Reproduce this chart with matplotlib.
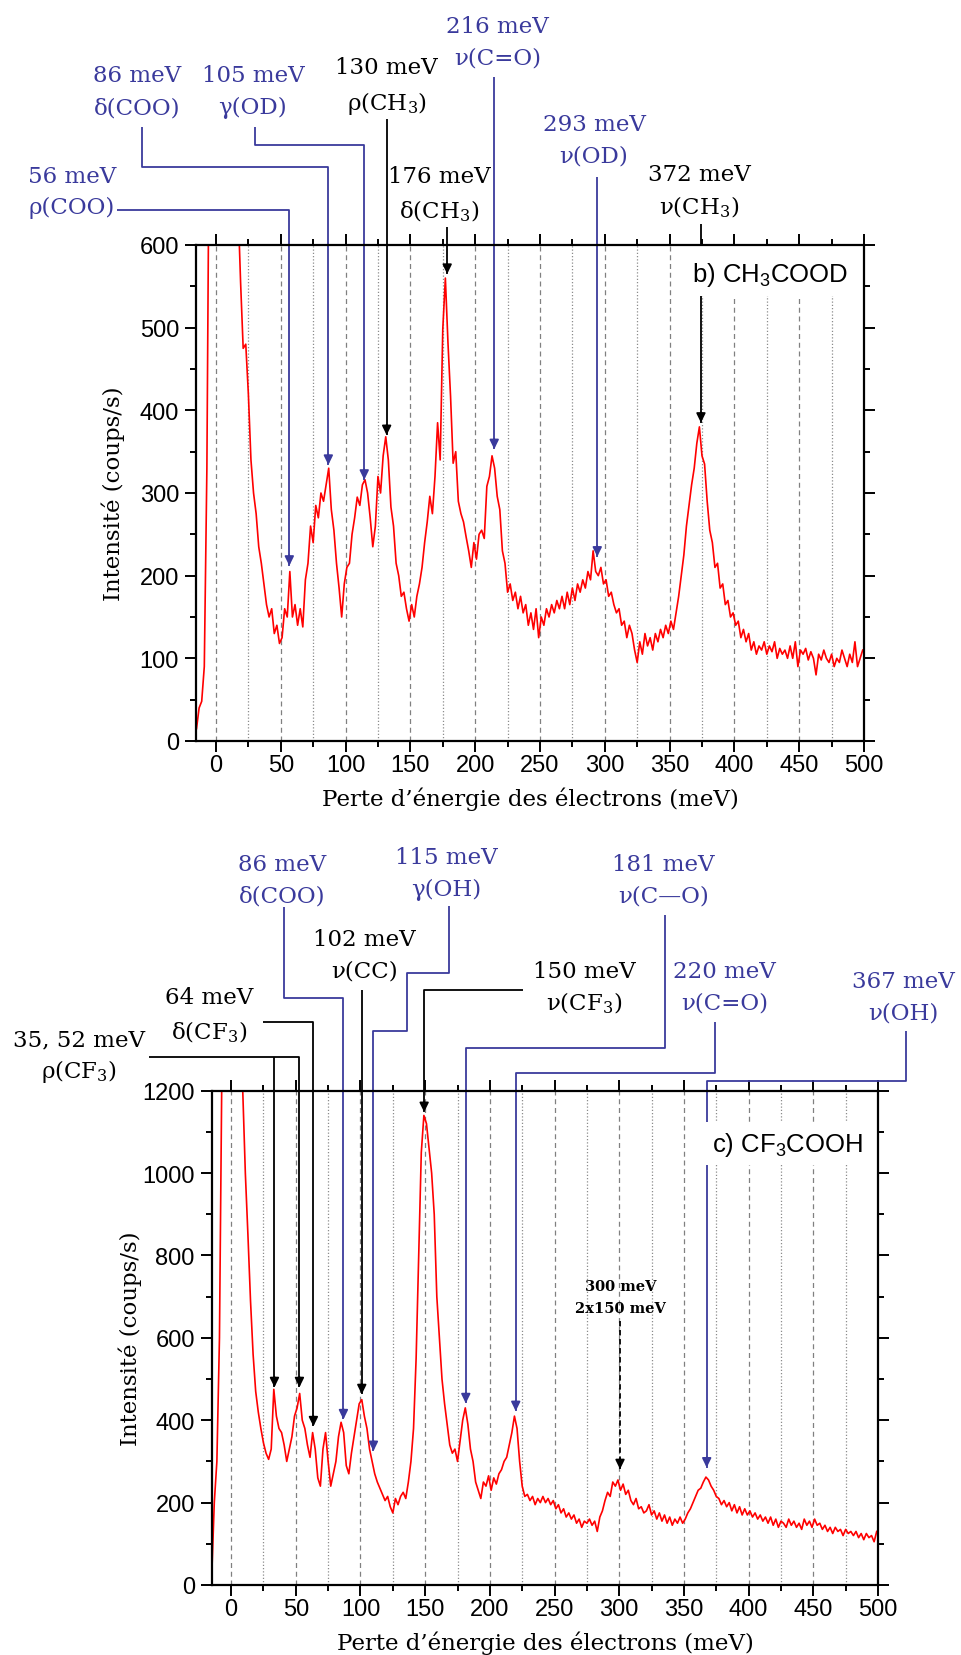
import numpy as np
import matplotlib
matplotlib.use("Agg")
import matplotlib.pyplot as plt
from matplotlib.ticker import MultipleLocator
from matplotlib.patches import Rectangle

# ---------------- data ----------------
E_START = -15      # meV, first sample
E_STEP = 2         # meV between samples

# b) CH3COOD  intensity (coups/s)
int_ch3cood = [
    15, 40, 48, 90, 330, 800, 900, 900, 900, 900,
    900, 900, 900, 900, 900, 800, 650, 555, 475, 480,
    420, 340, 300, 275, 235, 215, 190, 165, 150, 160,
    130, 140, 118, 125, 160, 150, 205, 150, 165, 140,
    160, 138, 195, 215, 260, 240, 285, 270, 300, 290,
    310, 330, 280, 255, 215, 185, 150, 190, 210, 215,
    250, 270, 295, 285, 310, 316, 300, 270, 235, 260,
    320, 300, 345, 368, 340, 283, 260, 215, 200, 175,
    180, 160, 145, 165, 150, 175, 190, 210, 240, 265,
    296, 275, 320, 385, 340, 498, 560, 482, 417, 336,
    350, 290, 275, 265, 247, 230, 210, 240, 220, 250,
    255, 245, 308, 320, 345, 330, 296, 280, 230, 215,
    180, 190, 170, 180, 160, 175, 155, 165, 140, 155,
    135, 160, 125, 150, 140, 160, 150, 165, 155, 170,
    160, 175, 160, 180, 165, 185, 170, 190, 180, 195,
    185, 205, 195, 230, 205, 200, 210, 190, 195, 175,
    180, 165, 155, 160, 140, 145, 125, 140, 130, 110,
    95, 120, 105, 130, 115, 125, 110, 130, 120, 135,
    125, 140, 130, 145, 135, 155, 175, 200, 225, 260,
    285, 310, 330, 360, 380, 345, 335, 290, 255, 240,
    210, 215, 185, 190, 165, 170, 150, 155, 140, 145,
    125, 135, 120, 130, 110, 120, 105, 115, 110, 120,
    105, 115, 108, 120, 100, 112, 105, 110, 100, 115,
    100, 120, 90, 110, 105, 112, 98, 108, 100, 80,
    105, 98, 110, 100, 95, 105, 90, 100, 95, 110,
    100, 90, 105, 95, 120, 90, 100, 110,
]

# c) CF3COOH  intensity (coups/s)
int_cf3cooh = [
    20, 200, 300, 600, 1300, 1400, 1400, 1400, 1400, 1400,
    1400, 1400, 1200, 1000, 850, 690, 560, 470, 420, 380,
    345, 320, 305, 330, 475, 410, 380, 370, 340, 300,
    330, 360, 410, 430, 465, 400, 380, 340, 310, 370,
    330, 260, 240, 330, 370, 300, 240, 270, 300, 360,
    395, 370, 290, 270, 320, 360, 400, 440, 450, 410,
    380, 330, 300, 270, 250, 235, 220, 205, 215, 190,
    175, 210, 195, 215, 225, 210, 250, 300, 380, 550,
    800, 1050, 1140, 1120, 1060, 1000, 900, 700, 600, 500,
    440, 390, 340, 320, 330, 300, 350, 400, 430, 390,
    330, 300, 250, 230, 210, 250, 240, 265, 230, 260,
    245, 270, 280, 300, 310, 340, 370, 410, 380, 300,
    240, 215, 220, 205, 215, 195, 210, 200, 215, 200,
    210, 195, 205, 185, 195, 175, 185, 165, 175, 160,
    170, 150, 160, 140, 155, 150, 160, 145, 155, 130,
    165, 180, 205, 225, 215, 250, 240, 255, 230, 245,
    220, 230, 205, 195, 210, 185, 190, 175, 180, 195,
    170, 180, 160, 175, 155, 170, 150, 165, 145, 160,
    150, 165, 150, 160, 175, 185, 200, 215, 230, 235,
    250, 262, 255, 240, 230, 215, 210, 195, 205, 190,
    200, 180, 195, 175, 190, 170, 185, 170, 180, 165,
    175, 160, 170, 155, 165, 150, 165, 145, 160, 140,
    155, 150, 140, 160, 145, 155, 140, 150, 135, 160,
    145, 155, 140, 160, 145, 150, 135, 145, 130, 140,
    125, 140, 130, 135, 120, 135, 125, 130, 120, 130,
    115, 125, 110, 125, 115, 120, 105, 130,
]

# annotations, panel b
top_energy_labels = ["56 meV", "86 meV", "105 meV", "130 meV", "176 meV",
                     "216 meV", "293 meV", "372 meV"]
top_mode_labels = ["ρ(COO)", "δ(COO)", "γ(OD)", r"ρ(CH$_\mathregular{3}$)",
                   r"δ(CH$_\mathregular{3}$)", "ν(C=O)", "ν(OD)",
                   r"ν(CH$_\mathregular{3}$)"]
top_is_blue = [True, True, True, False, False, True, True, False]
top_arrow_x = [56.6, 86.7, 114.4, 131.7, 178.4, 214.7, 294.2, 374.2]
top_arrow_tip = [212, 334, 316, 370, 565, 353, 223, 385]

# annotations, panel c
bot_energy_labels = ["35, 52 meV", "", "64 meV", "86 meV", "102 meV", "115 meV",
                     "150 meV", "181 meV", "220 meV", "367 meV"]
bot_mode_labels = [r"ρ(CF$_\mathregular{3}$)", "", r"δ(CF$_\mathregular{3}$)",
                   "δ(COO)", "ν(CC)", "γ(OH)", r"ν(CF$_\mathregular{3}$)",
                   "ν(C—O)", "ν(C=O)", "ν(OH)"]
bot_is_blue = [False, False, False, True, False, True, False, True, True, True]
bot_arrow_x = [52.8, 33.5, 63.6, 86.8, 101.0, 110.0, 149.2, 181.4, 220.0, 367.6]
bot_arrow_tip = [480, 480, 385, 402, 463, 325, 1148, 441, 422, 285]

overtone_labels = ["300 meV", "2x150 meV"]
overtone_x = 300.6
overtone_tip = 281

# ---------------- layout (positions only) ----------------
top_text_pos = [(-111.1, 683.4, 646.0), (-61.0, 805.6, 766.9), (28.5, 805.6, 766.9),
                (131.7, 815.2, 772.9), (172.0, 683.4, 642.3), (217.0, 865.5, 827.3),
                (291.7, 746.3, 708.0), (372.9, 685.9, 647.5)]
top_paths = [[(-76.4, 642.3), (56.6, 642.3)],
             [(-56.9, 742.7), (-56.9, 694.7), (86.7, 694.7)],
             [(29.9, 742.7), (29.9, 720.9), (114.4, 720.9)],
             [(131.7, 752.4)],
             [(178.4, 622.1)],
             [(214.7, 803.5)],
             [(294.2, 682.6)],
             [(374.2, 625.4)]]

bot_text_pos = [(-117.5, 1325.6, 1248.6), None, (-16.8, 1427.0, 1345.8),
                (39.2, 1750.9, 1673.9), (103.0, 1568.6, 1491.6),
                (166.5, 1766.7, 1690.0), (273.0, 1491.6, 1414.8),
                (334.1, 1750.9, 1673.9), (381.2, 1491.6, 1414.8),
                (519.6, 1467.3, 1390.5)]
bot_paths = [[(-63.1, 1282.6), (52.8, 1282.6)],
             [(33.5, 1282.6)],
             [(25.0, 1366.2), (63.6, 1366.2)],
             [(41.2, 1645.7), (41.2, 1424.5), (86.8, 1424.5)],
             [(101.0, 1444.7)],
             [(168.7, 1648.1), (168.7, 1486.0), (136.2, 1486.0), (136.2, 1344.3), (110.0, 1344.3)],
             [(225.9, 1444.7), (149.2, 1444.7)],
             [(335.4, 1627.0), (335.4, 1303.8), (181.4, 1303.8)],
             [(374.0, 1366.2), (374.0, 1243.0), (220.0, 1243.0)],
             [(521.6, 1345.8), (521.6, 1222.8), (367.6, 1222.8)]]

BLUE = "#3a3a9c"
SERIF = "DejaVu Serif"
SANS = "Liberation Sans"
plt.rcParams["font.family"] = [SANS, "DejaVu Sans"]

W, H = 961, 1656
fig = plt.figure(figsize=(W / 100, H / 100), dpi=100)


def px_axes(l, t, r, b):
    return [l / W, 1 - b / H, (r - l) / W, (b - t) / H]


ax1 = fig.add_axes(px_axes(196, 246, 864, 742))
ax2 = fig.add_axes(px_axes(211.7, 1091.7, 878, 1586))


def style(ax, xmin, ymax, ymaj, ymin):
    ax.set_xlim(xmin, 500)
    ax.set_ylim(0, ymax)
    ax.xaxis.set_major_locator(MultipleLocator(50))
    ax.xaxis.set_minor_locator(MultipleLocator(25))
    ax.yaxis.set_major_locator(MultipleLocator(ymaj))
    ax.yaxis.set_minor_locator(MultipleLocator(ymin))
    ax.tick_params(which="both", direction="out", top=True, right=True,
                   width=1.4, color="black")
    ax.tick_params(which="major", length=7.7)
    ax.tick_params(which="minor", length=4.4)
    ax.tick_params(axis="x", which="major", labelsize=17, pad=2)
    ax.tick_params(axis="y", which="major", labelsize=17, pad=4.5)
    for s in ax.spines.values():
        s.set_linewidth(1.6)
        s.set_zorder(4)
    ax.grid(True, which="major", axis="x", color="0.5", lw=0.9, ls=(0, (4, 3)))
    ax.grid(True, which="minor", axis="x", color="0.55", lw=0.9, ls=(0, (1, 1.6)))
    ax.set_axisbelow(True)


def arrow_path(ax, pts, x, tip, color, ls="-"):
    xs = [p[0] for p in pts] + [x]
    ys = [p[1] for p in pts] + [tip]
    if len(pts) and pts[-1][0] != x:
        xs.insert(-1, x)
        ys.insert(-1, pts[-1][1])
    ax.plot(xs, ys, color=color, lw=1.3, ls=ls, clip_on=False, zorder=3,
            solid_capstyle="butt")
    ax.annotate("", xy=(x, tip), xytext=(0, 7.5), textcoords="offset points",
                arrowprops=dict(arrowstyle="-|>,head_length=0.55,head_width=0.27",
                                color=color, lw=1.3, shrinkA=0, shrinkB=0,
                                mutation_scale=10),
                annotation_clip=False, zorder=3)


def two_lines(ax, pos, t1, t2, color, size=16.5, weight="normal"):
    x, y1, y2 = pos
    ax.text(x, y1, t1, color=color, family=SERIF, fontsize=size, ha="center",
            va="center", weight=weight)
    ax.text(x, y2, t2, color=color, family=SERIF, fontsize=size, ha="center",
            va="center", weight=weight)


# ---------------- panel b ----------------
E1 = E_START + E_STEP * np.arange(len(int_ch3cood))
ax1.plot(E1, int_ch3cood, color="#ff0000", lw=1.2, zorder=2)
style(ax1, -15.4, 600, 100, 50)
for i in range(len(top_energy_labels)):
    c = BLUE if top_is_blue[i] else "black"
    arrow_path(ax1, top_paths[i], top_arrow_x[i], top_arrow_tip[i], c)
    two_lines(ax1, top_text_pos[i], top_energy_labels[i], top_mode_labels[i], c)
ax1.add_patch(Rectangle((363.4, 538), 136.6, 62, facecolor="white",
                        edgecolor="none", zorder=3.5))
ax1.text(487.7, 565, r"b) CH$_\mathregular{3}$COOD", family=SANS, fontsize=18.5,
         ha="right", va="center", zorder=3.6)

# ---------------- panel c ----------------
E2 = E_START + E_STEP * np.arange(len(int_cf3cooh))
ax2.plot(E2, int_cf3cooh, color="#ff0000", lw=1.2, zorder=2)
style(ax2, -15.0, 1200, 200, 100)
for i in range(len(bot_energy_labels)):
    c = BLUE if bot_is_blue[i] else "black"
    arrow_path(ax2, bot_paths[i], bot_arrow_x[i], bot_arrow_tip[i], c)
    if bot_text_pos[i] is not None:
        two_lines(ax2, bot_text_pos[i], bot_energy_labels[i], bot_mode_labels[i], c)
arrow_path(ax2, [(overtone_x, 641)], overtone_x, overtone_tip, "black", ls=(0, (3, 2)))
two_lines(ax2, (301.2, 724.7, 673.6), overtone_labels[0], overtone_labels[1],
          "black", size=10.5, weight="bold")
ax2.add_patch(Rectangle((365.6, 1019.4), 134.4, 105.3, facecolor="white",
                        edgecolor="none", zorder=3.5))
ax2.text(488.6, 1070, r"c) CF$_\mathregular{3}$COOH", family=SANS, fontsize=18.5,
         ha="right", va="center", zorder=3.6)

# axis labels
xlab = "Perte d’énergie des électrons (meV)"
ylab = "Intensité (coups/s)"
fig.text(530 / W, 1 - 799 / H, xlab, family=SERIF, fontsize=16.5, ha="center", va="center")
fig.text(113 / W, 1 - 494 / H, ylab, family=SERIF, fontsize=16.5, ha="center",
         va="center", rotation=90)
fig.text(545 / W, 1 - 1643 / H, xlab, family=SERIF, fontsize=16.5, ha="center", va="center")
fig.text(130 / W, 1 - 1339 / H, ylab, family=SERIF, fontsize=16.5, ha="center",
         va="center", rotation=90)

fig.savefig("out.png", dpi=100)
